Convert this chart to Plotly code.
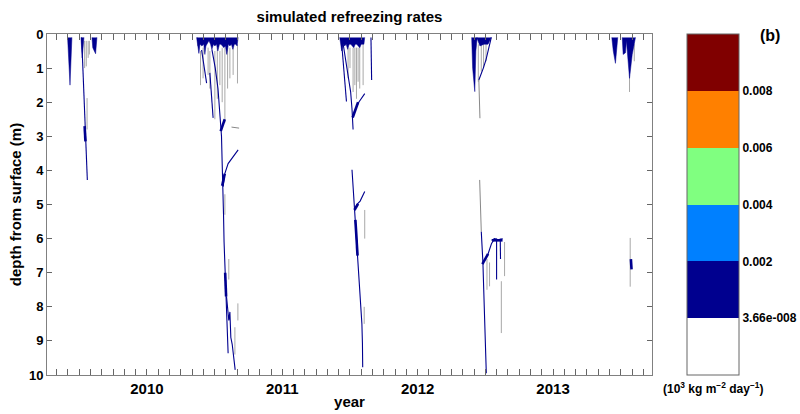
import plotly.graph_objects as go

# ---------------- data (decimal year, depth in m) ----------------
# near-surface refreezing wedges: (times, bottom depths), first/last on surface
wedges_2009 = [
    ([2009.414, 2009.424, 2009.432, 2009.446], [0.1, 0.9, 1.5, 0.1]),
    ([2009.513, 2009.522, 2009.535], [0.1, 0.7, 0.1]),
    ([2009.594, 2009.600, 2009.621, 2009.631], [0.1, 0.4, 0.58, 0.1]),
]
wedges_2010 = [
    ([2010.367, 2010.376, 2010.384, 2010.392, 2010.406, 2010.420, 2010.428, 2010.436,
      2010.443, 2010.458, 2010.470, 2010.480, 2010.492, 2010.502, 2010.514, 2010.524,
      2010.536, 2010.546, 2010.558, 2010.568, 2010.580, 2010.590, 2010.602, 2010.613,
      2010.624, 2010.635, 2010.646, 2010.657, 2010.666, 2010.674],
     [0.1, 0.3, 0.57, 0.3, 0.35, 0.3, 0.6, 0.35, 0.3, 0.2, 0.3, 0.45, 0.3, 0.35, 0.3,
      0.5, 0.3, 0.3, 0.35, 0.4, 0.35, 0.6, 0.3, 0.35, 0.3, 0.45, 0.3, 0.3, 0.35, 0.1]),
]
wedges_2011 = [
    ([2011.424, 2011.432, 2011.439, 2011.450, 2011.461, 2011.472, 2011.483, 2011.494,
      2011.506, 2011.517, 2011.528, 2011.539, 2011.550, 2011.561, 2011.572, 2011.583,
      2011.594, 2011.603, 2011.609],
     [0.1, 0.35, 0.5, 0.3, 0.35, 0.3, 0.45, 0.3, 0.3, 0.35, 0.4, 0.3, 0.3, 0.35, 0.4,
      0.3, 0.3, 0.3, 0.1]),
]
wedges_2012 = [
    ([2012.399, 2012.406, 2012.422, 2012.430, 2012.440], [0.1, 1.0, 1.69, 0.5, 0.1]),
    ([2012.436, 2012.460, 2012.490, 2012.520, 2012.544], [0.1, 0.35, 0.3, 0.3, 0.1]),
]
wedges_2013 = [
    ([2013.434, 2013.445, 2013.461, 2013.470, 2013.478], [0.1, 0.5, 0.86, 0.45, 0.1]),
    ([2013.511, 2013.518, 2013.535, 2013.542, 2013.565, 2013.585, 2013.609],
     [0.1, 0.6, 0.55, 0.2, 1.3, 0.6, 0.1]),
]

# wetting fronts (dark blue lines)
fronts_2009 = [
    ([2009.518, 2009.527, 2009.535, 2009.541, 2009.545, 2009.550, 2009.556, 2009.560],
     [0.1, 1.0, 2.0, 2.7, 3.0, 3.4, 4.0, 4.28]),
]
fronts_2010 = [
    ([2010.404, 2010.422, 2010.441], [0.47, 0.95, 1.44]),
    ([2010.465, 2010.476, 2010.489], [1.14, 1.8, 2.46]),
    ([2010.480, 2010.505, 2010.525, 2010.540, 2010.551, 2010.556, 2010.563, 2010.566,
      2010.570, 2010.576, 2010.582, 2010.588, 2010.594, 2010.600],
     [0.45, 1.0, 1.6, 2.3, 3.0, 3.8, 4.5, 5.3, 6.1, 6.9, 7.5, 8.2, 8.8, 9.36]),
    ([2010.563, 2010.575, 2010.600, 2010.640, 2010.674], [4.48, 4.1, 3.8, 3.6, 3.4]),
    ([2010.588, 2010.605, 2010.613, 2010.620, 2010.630, 2010.640, 2010.652],
     [7.7, 8.4, 8.15, 8.9, 9.1, 9.5, 9.85]),
]
fronts_2011 = [
    ([2011.437, 2011.455, 2011.474], [0.2, 1.1, 1.98]),
    ([2011.450, 2011.470, 2011.490, 2011.505, 2011.515, 2011.523],
     [0.3, 0.8, 1.2, 1.7, 2.2, 2.8]),
    ([2011.609, 2011.590, 2011.565, 2011.540, 2011.520], [1.75, 1.85, 2.0, 2.2, 2.4]),
    ([2011.655, 2011.658, 2011.660], [0.1, 0.7, 1.35]),
    ([2011.515, 2011.525, 2011.533, 2011.540, 2011.548, 2011.556, 2011.568, 2011.580,
      2011.588, 2011.592, 2011.594],
     [3.98, 4.6, 5.16, 5.45, 6.0, 6.6, 7.2, 7.8, 8.5, 9.06, 9.77]),
    ([2011.533, 2011.550, 2011.575, 2011.609], [5.16, 5.0, 4.9, 4.62]),
]
fronts_2012 = [
    ([2012.544, 2012.525, 2012.505, 2012.485, 2012.465, 2012.452],
     [0.1, 0.45, 0.75, 1.0, 1.25, 1.35]),
    ([2012.470, 2012.476, 2012.482, 2012.488, 2012.494, 2012.500, 2012.507],
     [5.8, 6.2, 6.7, 7.5, 8.3, 9.1, 9.95]),
    ([2012.482, 2012.500, 2012.520, 2012.545, 2012.568], [6.7, 6.6, 6.45, 6.15, 6.0]),
    ([2012.545, 2012.570, 2012.600, 2012.627], [6.05, 6.0, 6.05, 6.0]),
    ([2012.583, 2012.583], [6.0, 7.2]),
    ([2012.610, 2012.612], [6.0, 6.6]),
]
fronts_2013 = []

# intense refreezing blobs (thicker dark blue)
blobs = [
    ([2009.540, 2009.546], [2.7, 3.15]),
    ([2010.545, 2010.575], [2.85, 2.5]),
    ([2010.556, 2010.575], [4.45, 4.1]),
    ([2010.578, 2010.585], [7.0, 7.7]),
    ([2011.520, 2011.560], [2.45, 2.0]),
    ([2011.540, 2011.556], [5.45, 6.5]),
    ([2011.533, 2011.560], [5.16, 4.98]),
    ([2012.478, 2012.520], [6.75, 6.45]),
    ([2012.550, 2012.627], [6.05, 6.05]),
    ([2013.575, 2013.580], [6.6, 6.9]),
]

# weak refreezing streaks (grey): time, top depth, bottom depth
streak_t = [2009.540, 2009.552, 2009.566, 2009.558, 2009.575,
            2010.374, 2010.396, 2010.415, 2010.452, 2010.465, 2010.502, 2010.520,
            2010.539, 2010.556, 2010.576, 2010.596, 2010.613, 2010.637, 2010.669,
            2010.576, 2010.605, 2010.672, 2010.650,
            2011.486, 2011.500, 2011.523, 2011.536, 2011.548, 2011.560, 2011.572,
            2011.597, 2011.609, 2011.605,
            2012.448, 2012.470, 2012.487, 2012.505, 2012.531, 2012.618, 2012.642,
            2012.512,
            2013.565, 2013.570, 2013.600]
streak_top = [0.2, 0.2, 0.2, 1.88, 0.2,
              0.1, 0.5, 0.4, 0.4, 0.5, 0.5, 0.4, 0.5, 0.4, 0.4, 0.4, 0.4, 0.4, 0.3,
              4.7, 6.6, 7.9, 8.6,
              0.4, 0.4, 0.4, 0.4, 0.4, 0.4, 0.3, 0.3, 5.16, 8.0,
              0.3, 0.3, 0.3, 0.3, 6.7, 7.25, 6.1, 6.6,
              1.2, 5.98, 0.3]
streak_bot = [1.0, 0.95, 0.7, 2.8, 0.6,
              0.35, 1.5, 1.3, 1.2, 1.6, 2.5, 1.9, 1.5, 2.0, 2.6, 1.6, 1.3, 1.2, 1.45,
              5.3, 7.2, 8.4, 9.4,
              1.3, 1.0, 1.7, 1.5, 1.9, 1.4, 1.6, 1.5, 6.0, 8.5,
              1.4, 1.1, 1.0, 0.8, 7.4, 8.77, 7.1, 7.5,
              1.7, 7.41, 0.8]

# thin grey paths
grey_paths = [
    ([2010.625, 2010.681], [2.73, 2.76]),
    ([2012.452, 2012.456, 2012.460], [1.35, 2.0, 2.47]),
    ([2012.458, 2012.464, 2012.470], [4.28, 5.0, 5.8]),
]

# axis / colour-bar settings
x_range = [2009.262, 2013.731]
depth_ticks = list(range(0, 11))
year_ticks = [2010, 2011, 2012, 2013]
year_labels = ["2010", "2011", "2012", "2013"]
cbar_levels = [3.66e-8, 0.002, 0.004, 0.006, 0.008]
cbar_labels = ["3.66e-008", "0.002", "0.004", "0.006", "0.008"]
cbar_min, cbar_max = -0.002, 0.010
band_colors = ["#ffffff", "#00008f", "#0080ff", "#80ff80", "#ff8000", "#800000"]

DARK = "#00008f"
GREY = "#a8a8a8"
FONT = "Liberation Sans"

# plot-area geometry in pixels
L, R, T, B, W, H = 47, 652, 34, 375, 800, 414


def join(paths):
    xs, ys = [], []
    for t, d in paths:
        xs += list(t) + [None]
        ys += list(d) + [None]
    return xs, ys


fig = go.Figure()

# grey streaks
sx, sy = [], []
for t, a, b in zip(streak_t, streak_top, streak_bot):
    sx += [t, t, None]
    sy += [a, b, None]
fig.add_trace(go.Scatter(x=sx, y=sy, mode="lines", line=dict(color=GREY, width=1),
                         hoverinfo="skip", showlegend=False))
gx, gy = join(grey_paths)
fig.add_trace(go.Scatter(x=gx, y=gy, mode="lines", line=dict(color="#888888", width=1),
                         hoverinfo="skip", showlegend=False))

# wedges
wx, wy = join(wedges_2009 + wedges_2010 + wedges_2011 + wedges_2012 + wedges_2013)
fig.add_trace(go.Scatter(x=wx, y=wy, mode="lines", fill="toself", fillcolor=DARK,
                         line=dict(color=DARK, width=0.5), hoverinfo="skip",
                         showlegend=False))

# fronts
fx, fy = join(fronts_2009 + fronts_2010 + fronts_2011 + fronts_2012 + fronts_2013)
fig.add_trace(go.Scatter(x=fx, y=fy, mode="lines", line=dict(color=DARK, width=1.1),
                         hoverinfo="skip", showlegend=False))

# blobs
bx, by = join(blobs)
fig.add_trace(go.Scatter(x=bx, y=by, mode="lines", line=dict(color=DARK, width=2.6),
                         hoverinfo="skip", showlegend=False))

# colour bar
n = len(band_colors)
cscale = []
for i, c in enumerate(band_colors):
    cscale += [[i / n, c], [(i + 1) / n, c]]
fig.add_trace(go.Scatter(
    x=[None], y=[None], mode="markers", showlegend=False, hoverinfo="skip",
    marker=dict(color=[0.0], colorscale=cscale, cmin=cbar_min, cmax=cbar_max,
                showscale=True,
                colorbar=dict(x=(687 - L) / (R - L), xanchor="left", xpad=0, ypad=0,
                              y=0.5, yanchor="middle", len=1, lenmode="fraction",
                              thickness=52, outlinewidth=1, outlinecolor="#666666",
                              tickvals=cbar_levels, ticktext=cbar_labels,
                              ticks="", ticklen=0,
                              tickfont=dict(family=FONT, size=12, color="black",
                                            weight="bold")))))

fig.update_layout(
    width=W, height=H,
    margin=dict(l=L, r=W - R, t=T, b=H - B, autoexpand=False),
    paper_bgcolor="white", plot_bgcolor="white",
    title=dict(text="<b>simulated refreezing rates</b>", x=0.5, xref="paper",
               y=1 - 17 / H, yref="container", yanchor="middle", xanchor="center",
               font=dict(family=FONT, size=15, color="black")),
    xaxis=dict(range=x_range, tickvals=year_ticks, ticktext=year_labels,
               ticks="inside", ticklen=6, tickcolor="#666666", showgrid=False,
               minor=dict(tick0=2009, dtick=1 / 12, ticks="inside", ticklen=6,
                          tickcolor="#666666", showgrid=False),
               zeroline=False, showline=True, linecolor="#808080", mirror="ticks",
               automargin=False,
               tickfont=dict(family=FONT, size=15, color="black", weight="bold"),
               title=dict(text="<b>year</b>", standoff=0,
                          font=dict(family=FONT, size=15, color="black"))),
    yaxis=dict(range=[10, 0], tickvals=depth_ticks, ticks="inside", ticklen=5,
               tickcolor="#666666", showgrid=False, zeroline=False, showline=True,
               linecolor="#808080", mirror="ticks", automargin=False,
               tickfont=dict(family=FONT, size=13, color="black", weight="bold"),
               title=dict(text="<b>depth from surface (m)</b>", standoff=3,
                          font=dict(family=FONT, size=15, color="black"))),
    annotations=[
        dict(text="<b>(b)</b>", x=(770 - L) / (R - L), y=1 - (35 - T) / (B - T),
             xref="paper", yref="paper", xanchor="center", yanchor="middle",
             showarrow=False, font=dict(family=FONT, size=16, color="black")),
        dict(text="<b>(10<sup>3</sup> kg m<sup>\u22122</sup> day<sup>\u22121</sup>)</b>",
             x=(713 - L) / (R - L), y=1 - (388 - T) / (B - T),
             xref="paper", yref="paper", xanchor="center", yanchor="middle",
             showarrow=False, font=dict(family=FONT, size=12, color="black")),
    ],
)

fig.write_html("out.html")
